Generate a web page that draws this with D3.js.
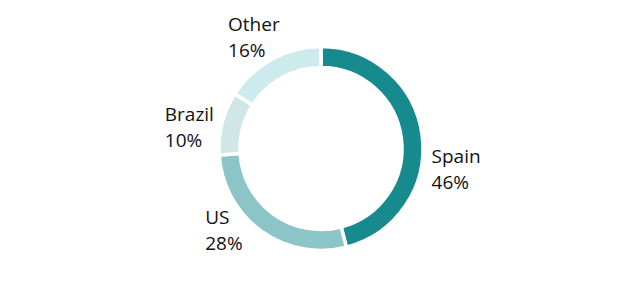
<!DOCTYPE html>
<html>
    <head>
        <meta charset="UTF-8" />
        <title>Revenue by country</title>
        <script src="https://cdn.jsdelivr.net/npm/d3@7"></script>
        <style>
            body { margin: 0; background: #fff; }
            svg text { font-family: "Open Sans", sans-serif; font-size: 19px; fill: #111; }
        </style>
    </head>
    <body>
        <svg id="chart"></svg>
        <script>
            // chart data
            const countries = ["Spain", "US", "Brazil", "Other"];
            const shares = [46, 28, 10, 16];
            const shareLabels = ["46%", "28%", "10%", "16%"];
            const colors = ["#178a8e", "#8cc5c8", "#d1e6e7", "#cdeaed"];

            const width = 642;
            const height = 302;
            const cx = 321, cy = 148.5;
            const outerR = 102, innerR = 81;

            const svg = d3.select("#chart")
                .attr("width", width)
                .attr("height", height);

            const g = svg.append("g").attr("transform", `translate(${cx},${cy})`);

            const pie = d3.pie().sort(null).value(d => d)(shares);

            const arc = d3.arc()
                .innerRadius(innerR)
                .outerRadius(outerR);

            g.selectAll("path")
                .data(pie)
                .enter()
                .append("path")
                .attr("d", arc)
                .attr("fill", (d, i) => colors[i])
                .attr("stroke", "#fff")
                .attr("stroke-width", 3.5);

            // labels sit outside the ring, nudged a bit by hand
            const labelShift = [15.6, 13.5, -4.9, -2.2];
            const labelR = [137, 126, 133, 130];
            const labelW = [50, 40, 50, 52];

            const labels = g.selectAll("text.lbl")
                .data(pie)
                .enter()
                .append("text")
                .attr("class", "lbl")
                .attr("transform", (d, i) => {
                    const a = (d.startAngle + d.endAngle) / 2 + labelShift[i] * Math.PI / 180;
                    const x = Math.sin(a) * labelR[i] - labelW[i] / 2;
                    const y = -Math.cos(a) * labelR[i];
                    return `translate(${x},${y})`;
                });

            labels.append("tspan")
                .attr("x", 0)
                .attr("y", -6)
                .text((d, i) => countries[i]);

            labels.append("tspan")
                .attr("x", 0)
                .attr("y", 20)
                .text((d, i) => shareLabels[i]);
        </script>
    </body>
</html>
